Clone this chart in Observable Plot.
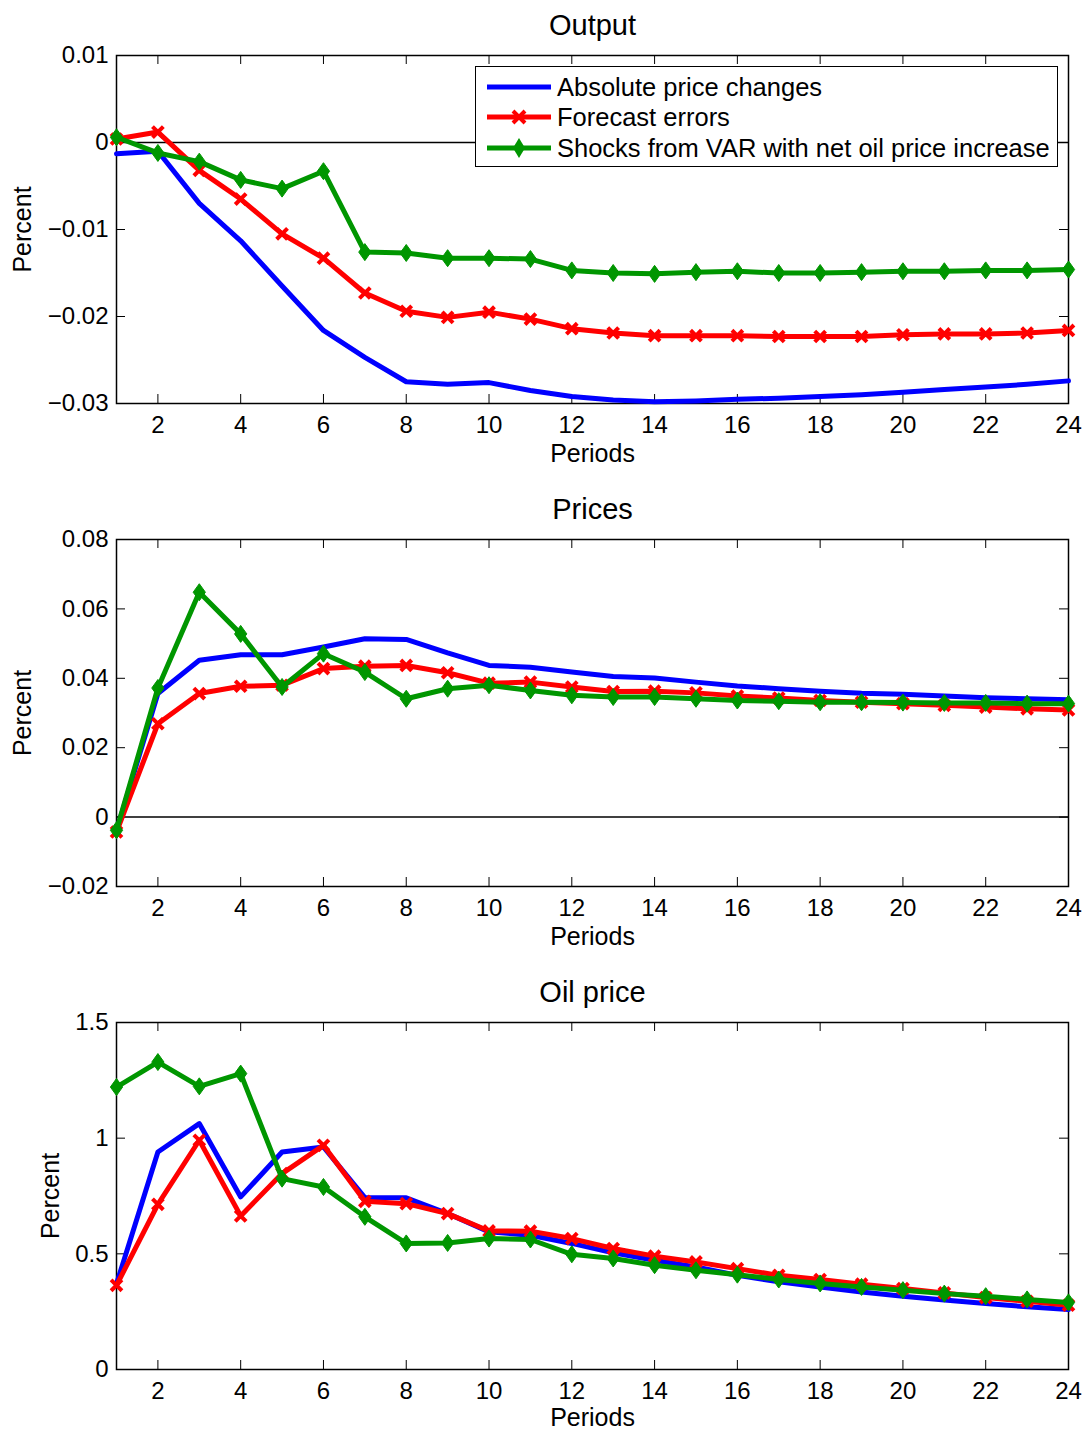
<!DOCTYPE html>
<html><head><meta charset="utf-8">
<script src="https://cdn.jsdelivr.net/npm/d3@7"></script>
<script src="https://cdn.jsdelivr.net/npm/@observablehq/plot@0.6"></script>
<style>
body{margin:0;background:#fff;font-family:"Liberation Sans",Arial,sans-serif}
#root{position:relative;width:1084px;height:1430px;overflow:hidden;background:#fff}
.panel{position:absolute;left:0}
.legend{position:absolute;box-sizing:border-box;background:#fff;border:1.5px solid #000}
.row{position:absolute;left:0;height:30px;display:flex;align-items:center;font-size:25.5px;color:#000;white-space:nowrap}
.row svg{margin-left:11px;margin-right:6px}
</style></head><body><div id="root"></div><script>
// ---- data ----
const periods = [1,2,3,4,5,6,7,8,9,10,11,12,13,14,15,16,17,18,19,20,21,22,23,24];
const seriesNames = ["Absolute price changes","Forecast errors","Shocks from VAR with net oil price increase"];
const seriesColors = ["#0000ff","#ff0000","#009600"];
const xTicks = [2,4,6,8,10,12,14,16,18,20,22,24];

const outputAbs = [-0.0013,-0.0010,-0.0070,-0.0113,-0.0165,-0.0216,-0.0247,-0.0275,-0.0278,-0.0276,-0.0285,-0.0292,-0.0296,-0.0298,-0.0297,-0.0295,-0.0294,-0.0292,-0.0290,-0.0287,-0.0284,-0.0281,-0.0278,-0.0274];
const outputFE  = [0.0004,0.0012,-0.0032,-0.0065,-0.0105,-0.0133,-0.0173,-0.0194,-0.0201,-0.0195,-0.0203,-0.0214,-0.0219,-0.0222,-0.0222,-0.0222,-0.0223,-0.0223,-0.0223,-0.0221,-0.0220,-0.0220,-0.0219,-0.0216];
const outputVAR = [0.0006,-0.0012,-0.0022,-0.0043,-0.0053,-0.0033,-0.0126,-0.0127,-0.0133,-0.0133,-0.0134,-0.0147,-0.0150,-0.0151,-0.0149,-0.0148,-0.0150,-0.0150,-0.0149,-0.0148,-0.0148,-0.0147,-0.0147,-0.0146];
const outputTicks = [-0.03,-0.02,-0.01,0,0.01];

const pricesAbs = [-0.0040,0.0356,0.0452,0.0468,0.0468,0.0490,0.0514,0.0512,0.0473,0.0437,0.0432,0.0418,0.0405,0.0401,0.0389,0.0378,0.0370,0.0363,0.0357,0.0354,0.0349,0.0344,0.0341,0.0338];
const pricesFE  = [-0.0043,0.0269,0.0356,0.0377,0.0380,0.0428,0.0435,0.0437,0.0416,0.0386,0.0389,0.0375,0.0362,0.0363,0.0358,0.0349,0.0343,0.0336,0.0331,0.0327,0.0322,0.0317,0.0312,0.0309];
const pricesVAR = [-0.0038,0.0372,0.0648,0.0528,0.0375,0.0471,0.0418,0.0341,0.0370,0.0380,0.0365,0.0351,0.0346,0.0346,0.0341,0.0336,0.0334,0.0331,0.0331,0.0330,0.0329,0.0329,0.0327,0.0327];
const pricesTicks = [-0.02,0,0.02,0.04,0.06,0.08];

const oilAbs = [0.370,0.940,1.063,0.746,0.940,0.962,0.743,0.742,0.674,0.595,0.580,0.545,0.504,0.472,0.443,0.407,0.379,0.357,0.335,0.317,0.300,0.285,0.271,0.259];
const oilFE  = [0.364,0.714,0.991,0.664,0.847,0.969,0.727,0.717,0.674,0.599,0.598,0.566,0.523,0.490,0.465,0.436,0.407,0.389,0.369,0.350,0.331,0.311,0.295,0.278];
const oilVAR = [1.221,1.329,1.224,1.279,0.825,0.789,0.660,0.545,0.547,0.566,0.562,0.498,0.480,0.451,0.429,0.410,0.389,0.372,0.357,0.343,0.328,0.317,0.303,0.290];
const oilTicks = [0,0.5,1,1.5];

// ---- helpers ----
const FONT = '"Liberation Sans", Arial, sans-serif';
const fmt = d => (d < 0 ? "\u2212" : "") + String(Math.abs(d));
const diamondSym = {draw(ctx, size){const h=Math.sqrt(size)*0.6, w=h*0.72; ctx.moveTo(0,-h); ctx.lineTo(w,0); ctx.lineTo(0,h); ctx.lineTo(-w,0); ctx.closePath();}};
const FW = 952;

function panel(cfg){
  const {title, values, yDomain, yTicks, top, frameH, marginBottom, percentDx, periodsDy, zero} = cfg;
  const data = values.map((vals, k) => periods.map((p,i) => ({p, v: vals[i], k})));
  const marks = [
    Plot.frame({stroke:"#000", strokeWidth:1.5}),
    zero ? Plot.ruleY([0], {stroke:"#000", strokeWidth:1.5}) : null,
    Plot.ruleX(xTicks, {x:d=>d, insetTop: frameH-9, stroke:"#000", strokeWidth:1}),
    Plot.ruleX(xTicks, {x:d=>d, insetBottom: frameH-9, stroke:"#000", strokeWidth:1}),
    Plot.ruleY(yTicks, {y:d=>d, insetRight: FW-9, stroke:"#000", strokeWidth:1}),
    Plot.ruleY(yTicks, {y:d=>d, insetLeft: FW-9, stroke:"#000", strokeWidth:1}),
    Plot.axisX({ticks: xTicks, tickSize:0, tickPadding:12, fontSize:24, label:null, tickFormat: d=>String(d)}),
    Plot.axisY({ticks: yTicks, tickSize:0, tickPadding:8, fontSize:24, label:null, tickFormat: fmt}),
    Plot.line(data[0], {x:"p", y:"v", stroke: seriesColors[0], strokeWidth:5}),
    Plot.line(data[1], {x:"p", y:"v", stroke: seriesColors[1], strokeWidth:5}),
    Plot.dot(data[1], {x:"p", y:"v", symbol:"times", r:5, stroke: seriesColors[1], strokeWidth:4}),
    Plot.line(data[2], {x:"p", y:"v", stroke: seriesColors[2], strokeWidth:5}),
    Plot.dot(data[2], {x:"p", y:"v", symbol: diamondSym, r:8, fill: seriesColors[2], stroke: seriesColors[2], strokeWidth:1}),
    Plot.text([title], {frameAnchor:"top", dy:-30, fontSize:29, lineAnchor:"middle", textAnchor:"middle", fill:"#000"}),
    Plot.text(["Periods"], {frameAnchor:"bottom", dy:periodsDy, fontSize:25, lineAnchor:"middle", textAnchor:"middle", fill:"#000"}),
    Plot.text(["Percent"], {frameAnchor:"left", dx:percentDx, rotate:-90, fontSize:25, lineAnchor:"middle", textAnchor:"middle", fill:"#000"})
  ];
  const chart = Plot.plot({
    width:1084, height: 55 + frameH + marginBottom,
    marginTop:55, marginLeft:116, marginRight:16, marginBottom,
    x:{domain:[1,24]}, y:{domain:yDomain},
    style:{fontFamily:FONT, fontSize:"24px", color:"#000", background:"transparent", overflow:"visible"},
    marks
  });
  const div = document.createElement("div");
  div.className = "panel";
  div.style.top = top + "px";
  div.appendChild(chart);
  document.getElementById("root").appendChild(div);
}

panel({title:"Output", values:[outputAbs, outputFE, outputVAR], yDomain:[-0.03,0.01], yTicks:outputTicks, top:0, frameH:348, marginBottom:80, percentDx:-94, periodsDy:50, zero:true});
panel({title:"Prices", values:[pricesAbs, pricesFE, pricesVAR], yDomain:[-0.02,0.08], yTicks:pricesTicks, top:484, frameH:347, marginBottom:80, percentDx:-94, periodsDy:50, zero:true});
panel({title:"Oil price", values:[oilAbs, oilFE, oilVAR], yDomain:[0,1.5], yTicks:oilTicks, top:967, frameH:347, marginBottom:63, percentDx:-66, periodsDy:48, zero:false});

// ---- legend ----
const legend = document.createElement("div");
legend.className = "legend";
Object.assign(legend.style, {left:"475px", top:"66px", width:"583px", height:"101px"});
const rowTops = [5, 35, 66];
seriesNames.forEach((name, k) => {
  const row = document.createElement("div");
  row.className = "row";
  row.style.top = rowTops[k] + "px";
  const c = seriesColors[k];
  let marker = "";
  if (k === 1) marker = `<path d="M26,9 L38,21 M26,21 L38,9" stroke="${c}" stroke-width="4"/>`;
  if (k === 2) marker = `<path d="M32,5 L38,15 L32,25 L26,15 Z" fill="${c}"/>`;
  row.innerHTML = `<svg width="64" height="30" viewBox="0 0 64 30"><line x1="0" y1="15" x2="64" y2="15" stroke="${c}" stroke-width="5"/>${marker}</svg><span>${name}</span>`;
  legend.appendChild(row);
});
document.getElementById("root").appendChild(legend);
</script></body></html>
